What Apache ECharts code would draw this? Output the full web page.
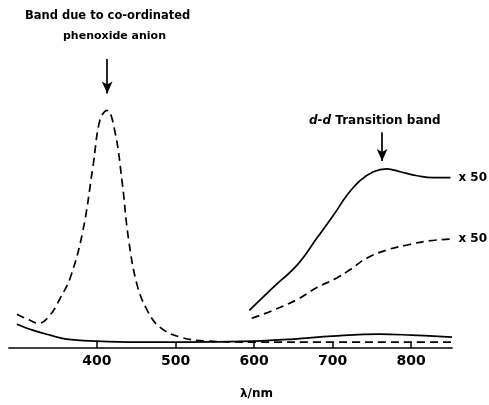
<!DOCTYPE html>
<html><head><meta charset="utf-8">
<script src="https://cdn.jsdelivr.net/npm/echarts@6/dist/echarts.min.js"></script>
<style>html,body{margin:0;padding:0;background:#fff}#c{width:489px;height:405px}</style>
</head><body><div id="c"></div>
<script>
// wavelength (nm), relative absorbance (arbitrary units)
const uvDashed = [[298,34],[312,29],[326,25],[340,33],[353,50],[366,71],[382,118],[395,184],[404,231],[413,240],[423,218],[432,168],[440,111],[451,64],[464,38],[480,21],[506,11],[540,7],[600,6],[700,6],[800,6],[852,6]];
const uvSolid = [[298,24],[318,18],[340,13],[361,9],[400,7],[450,6],[506,6],[600,7],[650,9],[700,12],[760,14],[800,13],[852,11]];
const ddSolid = [[594,38],[624,61],[655,84],[680,111],[701,134],[718,154],[735,169],[752,178],[769,181],[786,178],[808,174],[828,172],[850,172]];
const ddDashed = [[597,30],[624,38],[655,49],[680,61],[706,71],[722,79],[744,91],[769,99],[795,104],[820,108],[850,110]];
const tickValues = [400,500,600,700,800];
const arrow1 = [[413,292],[413,257]];
const arrow2 = [[763,218],[763,189]];

const font = 'DejaVu Sans';
const dash = [8,5];
function line(data, dashed, endLbl){
  return {
    type:'line', data, smooth:0.4, symbol:'none', silent:true,
    lineStyle:{color:'#000', width:1.7, type: dashed?dash:'solid'},
    endLabel: endLbl ? {show:true, formatter:endLbl, color:'#000', fontFamily:font, fontWeight:'bold', fontSize:12, distance:8} : {show:false}
  };
}
function arrowSeries(seg){
  return {
    type:'line', data:[], silent:true,
    markLine:{silent:true, symbol:['none','arrow'], symbolSize:[8,12],
      label:{show:false}, lineStyle:{color:'#000', width:1.7, type:'solid'},
      data:[[{coord:seg[0]},{coord:seg[1]}]]}
  };
}
const chart = echarts.init(document.getElementById('c'));
chart.setOption({
  animation:false,
  grid:{left:9, right:37, top:51, bottom:54},
  xAxis:{type:'value', min:288, max:852,
    axisLine:{show:true, lineStyle:{color:'#000', width:1.7}},
    axisTick:{show:true, inside:true, length:6, customValues:tickValues, lineStyle:{color:'#000', width:1.5}},
    axisLabel:{customValues:tickValues, color:'#000', fontFamily:font, fontWeight:'bold', fontSize:14, margin:6},
    splitLine:{show:false},
    name:'λ/nm', nameLocation:'middle', nameGap:40,
    nameTextStyle:{color:'#000', fontFamily:font, fontSize:12, fontWeight:'bold', letterSpacing:6, padding:[0,0,0,52]}
  },
  yAxis:{type:'value', min:0, max:300, show:false},
  series:[
    line(uvDashed, true), line(uvSolid, false),
    line(ddSolid, false, 'x 50'), line(ddDashed, true, 'x 50'),
    arrowSeries(arrow1), arrowSeries(arrow2)
  ],
  graphic:[
    {type:'text', left:25, top:10, style:{text:'Band due to co-ordinated', fill:'#000', font:'bold 11.5px "DejaVu Sans"', letterSpacing:0.2}},
    {type:'text', left:63, top:31, style:{text:'phenoxide anion', fill:'#000', font:'bold 11px "DejaVu Sans"'}},
    {type:'text', left:309, top:115, style:{
      text:'{i|d-d} Transition band',
      rich:{i:{fontStyle:'italic', fontWeight:'bold', fontSize:12, fontFamily:font, fill:'#000'}},
      fill:'#000', font:'bold 12px "DejaVu Sans"', letterSpacing:0.6}}
  ]
});
</script></body></html>
